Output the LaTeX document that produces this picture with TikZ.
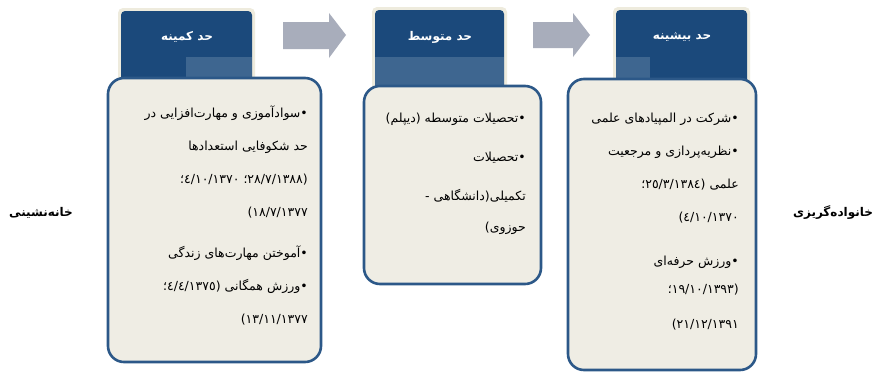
\documentclass[tikz,border=0pt]{standalone}
\usepackage{fontspec}
\newfontfamily\arabicfont[Script=Arabic]{DejaVu Sans}
\TeXXeTstate=1
\newcommand{\rtl}[1]{\beginR#1\endR}

\definecolor{headblue}{RGB}{27,73,123}
\definecolor{headlight}{RGB}{62,102,144}
\definecolor{tabbeige}{RGB}{238,235,221}
\definecolor{boxfill}{RGB}{239,237,228}
\definecolor{boxline}{RGB}{44,88,136}
\definecolor{arrowgray}{RGB}{168,173,187}

\begin{document}
\begin{tikzpicture}[x=1pt,y=-1pt,
    tab/.style={fill=tabbeige, rounded corners=5pt},
    head/.style={fill=headblue, rounded corners=4pt},
    itembox/.style={draw=boxline, line width=2.6pt, fill=boxfill, rounded corners=16pt},
    headtext/.style={text=white, font=\arabicfont\bfseries\fontsize{12}{14}\selectfont},
    itemtext/.style={align=right, anchor=north east, inner sep=0pt, font=\arabicfont\fontsize{12.5}{33}\selectfont},
    sidetext/.style={font=\arabicfont\bfseries\fontsize{12}{14}\selectfont}]
    \fill[white] (0,0) rectangle (878,373);
    \useasboundingbox (0,0) rectangle (878,373);

    % arrows between the levels
    \fill[arrowgray] (283,22) -- (329,22) -- (329,13) -- (346,35) -- (329,58) -- (329,49) -- (283,49) -- cycle;
    \fill[arrowgray] (533,22) -- (573,22) -- (573,13) -- (590,35) -- (573,57) -- (573,48) -- (533,48) -- cycle;

    % tabs
    \fill[tab] (118,8) rectangle (255,100);
    \fill[head] (121,11) rectangle (252,100);
    \fill[headlight] (186,57) rectangle (252,80);
    \fill[tab] (372,7) rectangle (507,100);
    \fill[head] (375,10) rectangle (504,100);
    \fill[headlight] (375,57) rectangle (504,86);
    \fill[tab] (613,7) rectangle (750,100);
    \fill[head] (616,10) rectangle (747,100);
    \fill[headlight] (616,57) rectangle (650,80);

    \node[headtext] (minHead) at (187,37) {\rtl{حد کمینه}};
    \node[headtext] (midHead) at (440,37) {\rtl{حد متوسط}};
    \node[headtext] (maxHead) at (682,37) {\rtl{حد بیشینه}};

    % boxes
    \draw[itembox] (108,78) rectangle (321,362);
    \draw[itembox] (364,86) rectangle (541,284);
    \draw[itembox] (568,79) rectangle (756,370);

    \node[itemtext] (minText) at (308,106) {%
        \rtl{•سوادآموزی و مهارت‌افزایی در}\\
        \rtl{حد شکوفایی استعدادها}\\
        \rtl{(٢٨/٧/١٣٨٨؛ ٤/١٠/١٣٧٠؛}\\
        \rtl{١٨/٧/١٣٧٧)}\\[8pt]
        \rtl{•آموختن مهارت‌های زندگی}\\
        \rtl{•ورزش همگانی (٤/٤/١٣٧٥؛}\\
        \rtl{١٣/١١/١٣٧٧)}};
    \node[itemtext, font=\arabicfont\fontsize{12.5}{39}\selectfont] (midText) at (526,113) {%
        \rtl{•تحصیلات متوسطه (دیپلم)}\\
        \rtl{•تحصیلات}\\
        \rtl{تکمیلی(دانشگاهی -}\\[-8pt]
        \rtl{حوزوی)}};
    \node[itemtext] (maxText) at (739,113) {%
        \rtl{•شرکت در المپیادهای علمی}\\
        \rtl{•نظریه‌پردازی و مرجعیت}\\
        \rtl{علمی (٢٥/٣/١٣٨٤؛}\\
        \rtl{٤/١٠/١٣٧٠)}\\[11pt]
        \rtl{•ورزش حرفه‌ای}\\[-5pt]
        \rtl{(١٩/١٠/١٣٩٣؛}\\[2pt]
        \rtl{٢١/١٢/١٣٩١)}};

    % side labels
    \node[sidetext] (homeLabel) at (41,213) {\rtl{خانه‌نشینی}};
    \node[sidetext] (familyLabel) at (833,213) {\rtl{خانواده‌گریزی}};
\end{tikzpicture}
\end{document}
